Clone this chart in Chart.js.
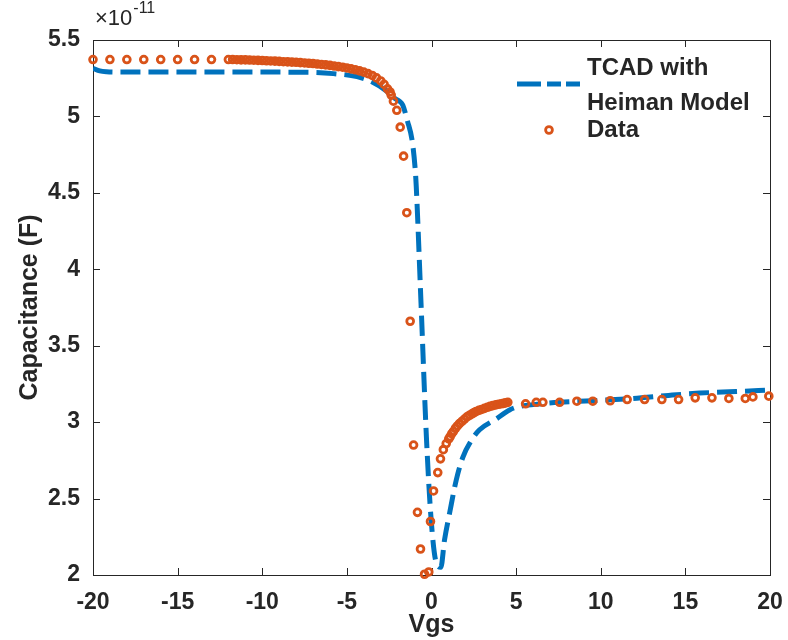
<!DOCTYPE html>
<html>
<head>
<meta charset="utf-8">
<script src="https://cdn.jsdelivr.net/npm/chart.js@4.4.1/dist/chart.umd.min.js"></script>
<style>
  html, body { margin: 0; padding: 0; background: #fff; }
  .chart-box { width: 788px; height: 640px; }
</style>
</head>
<body>
<div class="chart-box"><canvas id="cv-chart" width="788" height="640"></canvas></div>
<script>
// capacitance values are in units of 1e-11 F (axis multiplier drawn separately)
const dataVgs = [
  -20, -19, -18, -17, -16, -15, -14, -13,
  -12, -11.75, -11.5, -11.25, -11, -10.75, -10.5, -10.25, -10, -9.75, -9.5, -9.25,
  -9, -8.75, -8.5, -8.25, -8, -7.75, -7.5, -7.25, -7, -6.75, -6.5, -6.25,
  -6, -5.75, -5.5, -5.25, -5, -4.75, -4.5, -4.25, -4, -3.75, -3.5, -3.25,
  -3, -2.8, -2.6, -2.45,
  -2.38, -2.25, -2.05, -1.85, -1.65, -1.46, -1.26, -1.06, -0.83, -0.65, -0.41, -0.16,
  -0.06, 0.12, 0.37, 0.53, 0.7, 0.87, 1.02, 1.1, 1.2, 1.3, 1.42, 1.53, 1.65, 1.8,
  1.95, 2.1, 2.25, 2.4, 2.52, 2.64, 2.8, 2.96, 3.13, 3.3, 3.46, 3.62, 3.8, 3.96,
  4.12, 4.25, 4.38, 4.51,
  5.56, 6.19, 6.58, 7.57, 8.59, 9.53, 10.56, 11.56, 12.59, 13.61, 14.6, 15.58,
  16.57, 17.57, 18.54, 18.99, 19.93
];
const dataCap = [
  5.372, 5.372, 5.372, 5.372, 5.372, 5.372, 5.372, 5.372,
  5.372, 5.372, 5.371, 5.370, 5.370, 5.369, 5.368, 5.367, 5.366, 5.364, 5.363, 5.362,
  5.360, 5.358, 5.357, 5.355, 5.354, 5.352, 5.350, 5.348, 5.346, 5.343, 5.340, 5.337,
  5.334, 5.330, 5.326, 5.322, 5.317, 5.311, 5.305, 5.298, 5.290, 5.280, 5.268, 5.252,
  5.232, 5.21, 5.18, 5.16,
  5.14, 5.10, 5.04, 4.93, 4.74, 4.37, 3.66, 2.85, 2.41, 2.17, 2.005, 2.02,
  2.35, 2.55, 2.67, 2.76, 2.82, 2.86, 2.89, 2.905, 2.925, 2.94, 2.96, 2.975, 2.99, 3.005,
  3.02, 3.035, 3.045, 3.055, 3.063, 3.07, 3.077, 3.083, 3.09, 3.097, 3.103, 3.108, 3.113, 3.117,
  3.12, 3.123, 3.126, 3.13,
  3.12, 3.13, 3.13, 3.13, 3.137, 3.137, 3.14, 3.148, 3.148, 3.148, 3.148, 3.159,
  3.159, 3.155, 3.155, 3.165, 3.17
];

const tcadVgs = [
  -20, -19.6, -19.2, -18.5, -15, -10, -7, -5.8, -4.4, -3.5, -2.7, -2.2, -1.9, -1.7,
  -1.42, -1.14, -0.96, -0.9, -0.62, -0.3, -0.02, 0.28, 0.55, 0.77, 1.06, 1.46, 1.85,
  2.35, 2.84, 3.82, 4.61, 5.1, 6.5, 7.57, 9.5, 11.9, 14, 15.84, 18, 20
];
const tcadCap = [
  5.315, 5.298, 5.292, 5.29, 5.29, 5.29, 5.288, 5.28, 5.26, 5.225, 5.17, 5.12, 5.10, 5.075,
  4.97, 4.84, 4.65, 4.54, 3.78, 2.9, 2.36, 2.08, 2.05, 2.23, 2.40, 2.62, 2.77,
  2.88, 2.95, 3.02, 3.08, 3.10, 3.12, 3.13, 3.14, 3.155, 3.175, 3.19, 3.2, 3.21
];

const xTicks = [-20, -15, -10, -5, 0, 5, 10, 15, 20];
const yTicks = [2, 2.5, 3, 3.5, 4, 4.5, 5, 5.5];

const blue = '#0072BD',
    orange = '#D95319',
    ink = '#262626',
    fontFamily = '"Liberation Sans", Arial, Helvetica, sans-serif';

const toPoints = (xs, ys) => xs.map((v, i) => ({x: v, y: ys[i]}));

// box with inward ticks on all four sides, like a matlab axes
const axesBox = {
  id: 'axesBox',
  beforeDatasetsDraw(chart) {
    const {ctx, chartArea: a, scales: {x, y}} = chart;
    const len = 7;
    ctx.save();
    ctx.strokeStyle = ink;
    ctx.lineWidth = 1;
    ctx.strokeRect(Math.round(a.left) + 0.5, Math.round(a.top) + 0.5,
      Math.round(a.right - a.left), Math.round(a.bottom - a.top));
    ctx.beginPath();
    xTicks.forEach(v => {
      const px = Math.round(x.getPixelForValue(v)) + 0.5;
      ctx.moveTo(px, a.bottom); ctx.lineTo(px, a.bottom - len);
      ctx.moveTo(px, a.top); ctx.lineTo(px, a.top + len);
    });
    yTicks.forEach(v => {
      const py = Math.round(y.getPixelForValue(v)) + 0.5;
      ctx.moveTo(a.left, py); ctx.lineTo(a.left + len, py);
      ctx.moveTo(a.right, py); ctx.lineTo(a.right - len, py);
    });
    ctx.stroke();
    ctx.restore();
  },
  afterDraw(chart) {
    const {ctx, chartArea: a} = chart;
    ctx.save();
    ctx.fillStyle = ink;
    ctx.textBaseline = 'alphabetic';
    ctx.font = '22px ' + fontFamily;
    ctx.fillText('\u00d710', a.left + 2, a.top - 15);
    const w = ctx.measureText('\u00d710').width;
    ctx.font = '16px ' + fontFamily;
    ctx.fillText('-11', a.left + 2 + w + 1, a.top - 27);
    ctx.restore();
  }
};

// legend without frame, text wraps onto two lines for the first entry
const sideLegend = {
  id: 'sideLegend',
  afterDraw(chart) {
    const {ctx, chartArea: a} = chart;
    const lx = a.right - 253, tx = a.right - 183;
    ctx.save();
    ctx.strokeStyle = blue;
    ctx.lineWidth = 5;
    ctx.setLineDash([24, 6, 14, 5]);
    ctx.beginPath();
    ctx.moveTo(lx, a.top + 44);
    ctx.lineTo(lx + 63, a.top + 44);
    ctx.stroke();
    ctx.setLineDash([]);

    ctx.strokeStyle = orange;
    ctx.lineWidth = 2.8;
    ctx.beginPath();
    ctx.arc(lx + 32, a.top + 90, 3.4, 0, Math.PI * 2);
    ctx.stroke();

    ctx.fillStyle = ink;
    ctx.font = 'bold 24px ' + fontFamily;
    ctx.textBaseline = 'middle';
    ctx.fillText('TCAD with', tx, a.top + 28);
    ctx.fillText('Heiman Model', tx, a.top + 63);
    ctx.fillText('Data', tx, a.top + 90);
    ctx.restore();
  }
};

const ctx = document.querySelector('#cv-chart');

const chart = new Chart(ctx.getContext('2d'), {
  data: {
    datasets: [
      {
        type: 'line',
        label: 'TCAD with Heiman Model',
        data: toPoints(tcadVgs, tcadCap),
        borderColor: blue,
        borderWidth: 5,
        borderDash: [20, 8],
        borderCapStyle: 'butt',
        pointRadius: 0,
        fill: false,
        cubicInterpolationMode: 'monotone',
        order: 1,
      },
      {
        type: 'scatter',
        label: 'Data',
        data: toPoints(dataVgs, dataCap),
        borderColor: orange,
        backgroundColor: 'rgba(255,255,255,0)',
        pointRadius: 3.4,
        pointBorderWidth: 2.8,
        pointHoverRadius: 3.4,
        clip: false,
        order: 0,
      },
    ]
  },
  options: {
    responsive: false,
    animation: false,
    events: [],
    layout: {
      padding: {left: 0, top: 40, right: 18, bottom: 0}
    },
    scales: {
      x: {
        type: 'linear',
        min: -20,
        max: 20,
        afterBuildTicks: scale => { scale.ticks = xTicks.map(v => ({value: v})); },
        afterFit: scale => {
          scale.height = 65;
          // end labels may hang past the plot box
          scale.paddingLeft = 0;
          scale.paddingRight = 0;
        },
        grid: {display: false, drawTicks: false},
        border: {display: false},
        ticks: {
          color: ink,
          padding: 14,
          maxRotation: 0,
          callback: v => String(v),
          font: {size: 23, weight: 'bold', family: fontFamily},
        },
        title: {
          display: true,
          text: 'Vgs',
          color: ink,
          padding: {top: 0, bottom: 0},
          font: {size: 25, weight: 'bold', family: fontFamily},
        },
      },
      y: {
        type: 'linear',
        min: 2,
        max: 5.5,
        afterBuildTicks: scale => { scale.ticks = yTicks.map(v => ({value: v})); },
        afterFit: scale => { scale.width = 93; },
        grid: {display: false, drawTicks: false},
        border: {display: false},
        ticks: {
          color: ink,
          padding: 13,
          callback: v => String(v),
          font: {size: 23, weight: 'bold', family: fontFamily},
        },
        title: {
          display: true,
          text: 'Capacitance (F)',
          color: ink,
          padding: {top: 15, bottom: 0},
          font: {size: 25, weight: 'bold', family: fontFamily},
        },
      },
    },
    plugins: {
      legend: {display: false},
      tooltip: {enabled: false},
    }
  },
  plugins: [axesBox, sideLegend]
});
</script>
</body>
</html>
